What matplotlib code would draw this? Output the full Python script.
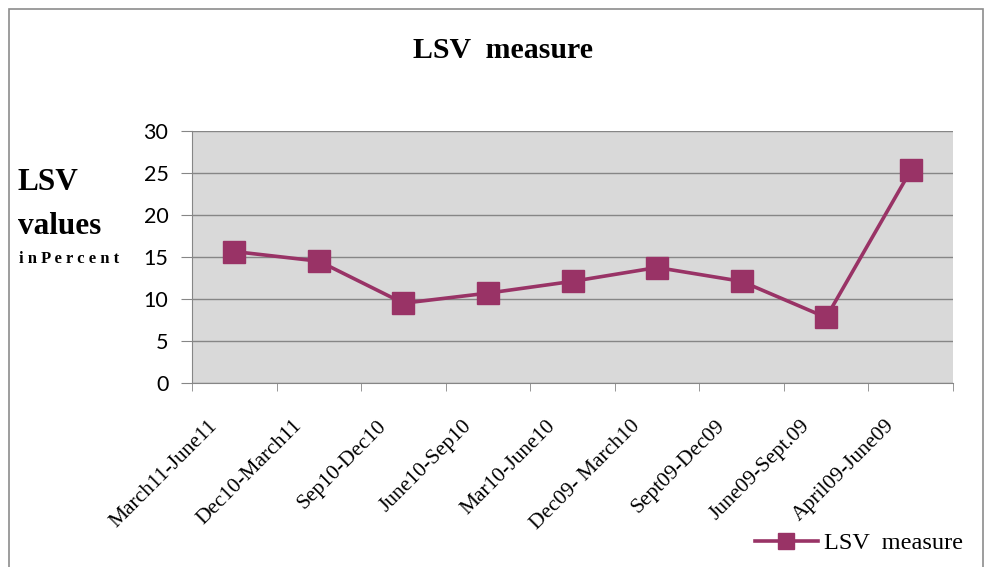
import matplotlib.pyplot as plt
import matplotlib.transforms as mtransforms
import numpy as np
from matplotlib.patches import Rectangle

# LSV measure per period
periods = ["March11-June11", "Dec10-March11", "Sep10-Dec10", "June10-Sep10",
           "Mar10-June10", "Dec09- March10", "Sept09-Dec09", "June09-Sept.09",
           "April09-June09"]
lsv_values = [15.65, 14.5, 9.5, 10.7, 12.1, 13.75, 12.1, 7.8, 25.3]
y_ticks = [0, 5, 10, 15, 20, 25, 30]

line_color = "#993366"
grid_color = "#868686"

fig = plt.figure(figsize=(9.84, 5.67), dpi=100)
fig.patch.set_facecolor("white")
# chart border
fig.add_artist(Rectangle((9 / 984, -0.01), 974 / 984, 1 - 9 / 567 + 0.01,
                         transform=fig.transFigure, fill=False,
                         edgecolor="#8c8c8c", linewidth=1.2))

ax = fig.add_axes([192 / 984, 1 - 383 / 567, 761 / 984, 252 / 567])
ax.set_facecolor("#d9d9d9")

x = np.arange(len(periods))
ax.plot(x, lsv_values, color=line_color, linewidth=2.6, marker="s",
        markersize=15.5, markeredgecolor=line_color, label="LSV  measure",
        zorder=3)

ax.set_xlim(-0.5, len(periods) - 0.5)
ax.set_ylim(0, 30)
ax.set_yticks(y_ticks)
ax.set_yticklabels([str(v) for v in y_ticks], family="Lato", fontsize=15.5)
ax.yaxis.grid(True, color=grid_color, linewidth=1)
ax.set_axisbelow(True)

# category labels at centres, tick marks at boundaries
ax.set_xticks(x)
ax.set_xticklabels(periods, rotation=45, ha="right", rotation_mode="anchor",
                   family="Liberation Serif", fontsize=15.5)
ax.tick_params(axis="x", which="major", length=0, pad=24)
shift = mtransforms.ScaledTranslation(-0.26, 0, fig.dpi_scale_trans)
for lab in ax.get_xticklabels():
    lab.set_transform(lab.get_transform() + shift)
ax.set_xticks(np.arange(-0.5, len(periods)), minor=True)
ax.tick_params(axis="x", which="minor", length=6, color=grid_color)
ax.tick_params(axis="y", length=8, color=grid_color, pad=9)

for side in ["top", "right"]:
    ax.spines[side].set_visible(False)
for side in ["left", "bottom"]:
    ax.spines[side].set_color(grid_color)

fig.text(503 / 984, 1 - 50 / 567, "LSV  measure", ha="center", va="center",
         family="Liberation Serif", fontweight="bold", fontsize=21.5)

# y axis title
fig.text(18 / 984, 1 - 183 / 567, "LSV", ha="left", va="center",
         family="Liberation Serif", fontweight="bold", fontsize=22.5)
fig.text(18 / 984, 1 - 226 / 567, "values", ha="left", va="center",
         family="Liberation Serif", fontweight="bold", fontsize=22.5)
fig.text(19 / 984, 1 - 259 / 567, "i n P e r c e n t", ha="left", va="center",
         family="Liberation Serif", fontweight="bold", fontsize=12)

leg = fig.legend(loc="center", bbox_to_anchor=(859 / 984, 1 - 543 / 567),
                 frameon=False, prop={"family": "Liberation Serif", "size": 17.5},
                 handlelength=2.6, handletextpad=0.25, markerscale=0.75)

fig.savefig("out.png", dpi=100)
